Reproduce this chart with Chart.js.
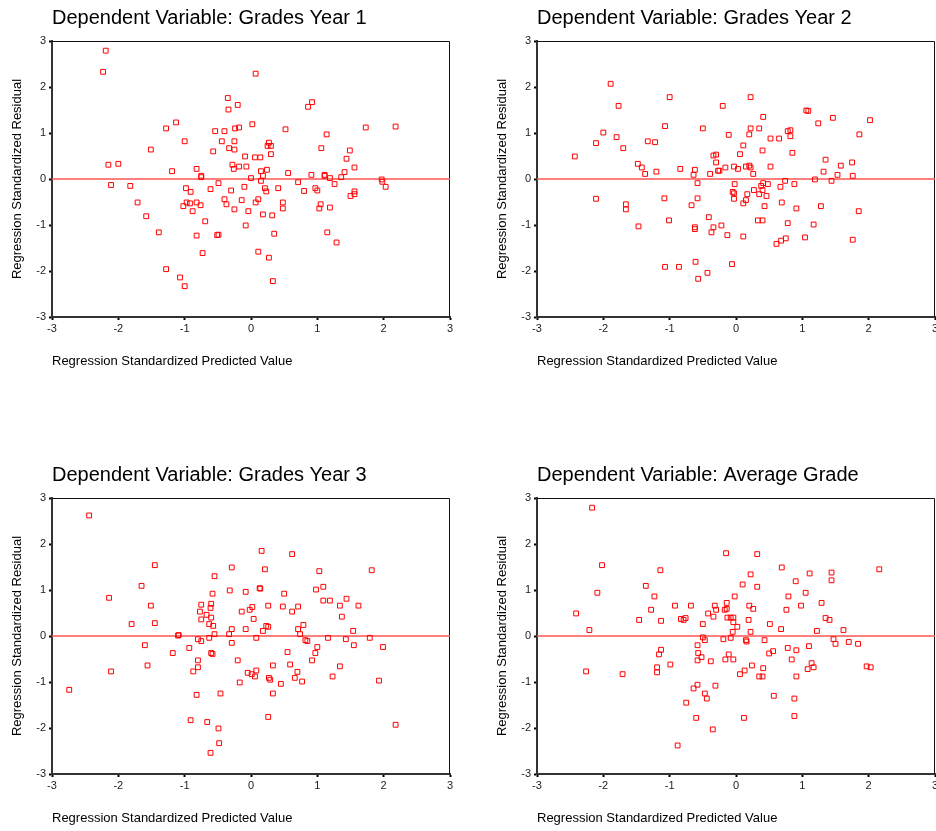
<!DOCTYPE html>
<html>
<head>
<meta charset="utf-8">
<script src="https://cdn.jsdelivr.net/npm/chart.js@4"></script>
<style>
  html, body { margin: 0; padding: 0; background: #fff; overflow: hidden; }
  body { width: 936px; height: 831px; position: relative; }
  canvas { position: absolute; }
</style>
</head>
<body>
<canvas id="c1" width="460" height="374" style="left:0;top:0"></canvas>
<canvas id="c2" width="460" height="374" style="left:485px;top:0"></canvas>
<canvas id="c3" width="460" height="374" style="left:0;top:457px"></canvas>
<canvas id="c4" width="460" height="374" style="left:485px;top:457px"></canvas>
<script>
// values
const titles = [
  'Dependent Variable: Grades Year 1',
  'Dependent Variable: Grades Year 2',
  'Dependent Variable: Grades Year 3',
  'Dependent Variable: Average Grade'
];
const xTitle = 'Regression Standardized Predicted Value';
const yTitle = 'Regression Standardized Residual';
const axisMin = -3, axisMax = 3;

const x1 = [-2.19,-2.23,0.07,-0.35,-0.20,-0.34,0.92,0.86,-1.13,-1.28,-0.24,-0.18,0.02,0.52,1.73,2.18,-0.54,-0.40,1.14,-1.00,
  -0.44,-0.25,0.27,0.25,0.30,-1.51,-0.33,-0.25,1.06,1.49,-0.57,0.30,-0.09,0.06,0.14,1.44,-2.15,-2.00,-0.28,-0.18,
  -0.07,-0.26,-0.82,1.56,-1.19,0.15,0.24,0.56,1.41,-0.75,-0.75,0.18,0.91,1.11,1.11,1.19,1.36,0.00,1.97,1.98,
  2.03,-2.11,-1.82,-0.49,0.15,0.71,1.26,-0.98,-0.91,-0.61,-0.10,0.21,0.23,0.41,0.80,0.97,1.00,1.56,1.56,1.50,
  -0.30,-1.71,-0.97,-0.92,-0.82,-0.76,-1.02,-0.40,-0.37,-0.14,0.11,0.07,0.48,0.48,-0.25,-0.88,-0.04,1.05,1.03,1.19,
  -1.58,0.18,0.32,-0.69,-0.08,-1.39,-0.82,-0.51,-0.49,0.35,1.15,1.29,-0.73,0.11,0.27,-1.28,-1.07,-1.00,0.33];
const y1 = [2.79,2.33,2.29,1.76,1.61,1.51,1.67,1.57,1.23,1.10,1.10,1.12,1.19,1.08,1.12,1.14,1.04,1.04,0.97,0.82,
  0.82,0.82,0.79,0.72,0.72,0.64,0.67,0.64,0.67,0.62,0.60,0.54,0.49,0.47,0.47,0.44,0.31,0.33,0.31,0.27,
  0.27,0.22,0.22,0.25,0.17,0.17,0.20,0.13,0.15,0.07,0.04,0.07,0.09,0.09,0.07,0.02,0.04,0.02,-0.01,-0.06,
  -0.17,-0.13,-0.15,-0.09,-0.04,-0.07,-0.11,-0.20,-0.28,-0.22,-0.17,-0.20,-0.27,-0.20,-0.26,-0.20,-0.25,-0.27,-0.33,-0.37,
  -0.25,-0.51,-0.51,-0.53,-0.51,-0.57,-0.59,-0.44,-0.55,-0.46,-0.44,-0.51,-0.51,-0.64,-0.66,-0.70,-0.70,-0.55,-0.64,-0.62,
  -0.81,-0.77,-0.79,-0.92,-1.01,-1.16,-1.23,-1.22,-1.21,-1.19,-1.16,-1.38,-1.61,-1.58,-1.71,-1.96,-2.14,-2.33,-2.22];

const x2 = [-1.89,-1.00,0.22,-1.77,-0.20,1.06,1.09,0.41,1.46,1.24,2.02,-1.07,-0.50,0.22,0.35,-2.00,0.78,0.82,-0.11,0.20,
  1.86,-1.80,0.82,0.52,0.65,-2.11,-1.33,-1.22,0.11,-1.70,0.40,0.85,0.06,-0.34,-0.30,-2.43,1.35,-0.30,-1.48,1.75,
  -1.42,1.58,0.15,0.20,0.22,-0.16,-0.03,0.03,0.52,-0.84,-0.62,-0.27,-0.25,-1.20,-1.37,-0.39,0.26,1.32,1.53,-0.64,
  1.76,1.19,0.74,1.44,-0.58,-0.02,0.41,0.48,0.88,0.38,0.67,-0.05,-0.03,0.27,0.40,0.17,0.35,-2.11,-1.08,-0.58,
  -0.03,0.46,0.15,0.11,0.69,-1.66,-1.66,-0.67,0.43,1.28,0.91,1.85,-0.41,-1.01,0.33,0.40,0.78,1.17,-0.22,-1.47,
  -0.62,-0.62,-0.34,-0.37,-0.13,0.11,1.04,0.75,0.68,0.61,1.76,-1.07,-0.86,-0.61,-0.06,-0.43,-0.57];
const y2 = [2.07,1.78,1.78,1.59,1.59,1.49,1.48,1.35,1.33,1.21,1.28,1.15,1.10,1.10,1.10,1.01,1.04,1.06,0.96,0.97,
  0.97,0.91,0.93,0.88,0.88,0.78,0.82,0.80,0.73,0.67,0.62,0.57,0.54,0.51,0.53,0.49,0.42,0.36,0.33,0.36,
  0.25,0.29,0.27,0.29,0.25,0.25,0.27,0.22,0.27,0.22,0.20,0.18,0.18,0.16,0.11,0.11,0.11,0.16,0.09,0.09,
  0.07,-0.01,-0.04,-0.04,-0.09,-0.11,-0.09,-0.11,-0.11,-0.15,-0.17,-0.28,-0.31,-0.24,-0.24,-0.33,-0.33,-0.43,-0.42,-0.42,
  -0.43,-0.37,-0.46,-0.53,-0.51,-0.55,-0.66,-0.57,-0.59,-0.59,-0.64,-0.70,-0.83,-0.90,-0.90,-0.90,-0.96,-0.99,-1.01,-1.03,
  -1.05,-1.09,-1.05,-1.16,-1.22,-1.25,-1.27,-1.29,-1.34,-1.41,-1.32,-1.91,-1.91,-1.80,-1.85,-2.04,-2.17];

const x3 = [-2.44,-2.74,0.16,0.62,-1.45,-0.29,0.21,1.03,1.82,-0.55,-1.65,1.09,0.13,0.14,-0.32,-0.08,0.98,-0.58,0.50,-2.14,
  1.09,1.19,1.44,-0.75,-0.60,-1.51,0.02,0.26,0.48,0.71,1.34,1.62,-0.61,-0.77,-0.14,-0.02,0.62,-0.67,-0.60,0.04,
  -0.75,1.37,-1.80,-1.45,-0.63,-0.57,-0.29,-0.08,0.23,0.26,0.18,0.79,0.71,1.54,-0.55,-0.33,0.74,-1.10,-1.09,-0.63,
  0.08,1.16,1.79,-0.80,-0.75,0.82,0.85,1.43,-1.60,-0.29,1.55,-0.93,1.00,1.99,-1.18,-0.60,-0.58,0.55,0.97,-0.80,
  -0.20,0.92,-1.56,-0.80,0.33,0.59,1.34,-2.11,-0.87,-0.05,0.01,0.08,0.06,0.70,0.27,0.29,0.66,1.23,-0.17,0.45,
  0.77,1.93,-0.82,-0.46,0.33,0.26,-0.91,-0.66,-0.49,-0.48,-0.61,2.18];
const y3 = [2.62,-1.17,1.85,1.78,1.54,1.49,1.45,1.41,1.43,1.30,1.09,1.07,1.04,1.03,0.99,0.96,1.01,0.92,0.92,0.83,
  0.77,0.77,0.81,0.68,0.70,0.66,0.63,0.66,0.64,0.64,0.66,0.66,0.61,0.53,0.53,0.57,0.53,0.46,0.40,0.37,
  0.36,0.42,0.26,0.28,0.26,0.22,0.15,0.15,0.22,0.20,0.11,0.24,0.15,0.11,0.04,0.04,0.04,0.01,0.02,-0.04,
  -0.04,-0.04,-0.04,-0.07,-0.11,-0.09,-0.11,-0.07,-0.20,-0.15,-0.20,-0.26,-0.24,-0.24,-0.37,-0.37,-0.39,-0.35,-0.37,-0.53,
  -0.53,-0.53,-0.64,-0.68,-0.64,-0.62,-0.66,-0.77,-0.77,-0.80,-0.83,-0.75,-0.88,-0.78,-0.91,-0.95,-0.91,-0.88,-1.01,-1.04,
  -0.99,-0.97,-1.28,-1.25,-1.25,-1.76,-1.83,-1.87,-2.01,-2.33,-2.54,-1.93];

const x4 = [-2.17,-2.02,-0.15,0.32,0.69,-1.14,1.44,1.11,0.22,2.16,1.44,0.90,-1.36,0.10,0.32,-2.09,1.05,-1.23,-0.02,0.79,
  1.29,-0.14,-0.92,-0.68,-0.32,0.20,0.98,-1.28,-0.30,-0.17,-0.14,0.26,0.76,-2.41,-0.42,-0.34,-0.76,-0.83,-0.79,-0.13,
  -0.08,-0.04,-0.04,-1.46,-1.13,0.19,1.35,1.41,-0.50,0.51,0.02,-2.21,0.68,1.62,1.22,-0.05,0.22,-0.50,-0.47,-0.19,
  -0.08,0.15,0.16,0.43,1.47,1.50,1.70,1.84,-0.58,0.78,1.10,0.91,-0.57,0.50,0.56,-1.13,-1.16,-0.52,-0.11,-0.16,
  -0.04,-0.58,-0.38,0.84,1.14,-0.99,0.24,-1.19,0.41,1.17,1.08,1.97,2.03,-2.26,-1.19,0.13,0.06,-1.71,0.35,0.40,
  0.91,-0.58,-0.64,-0.31,-0.47,-0.44,0.57,0.88,-0.75,-0.60,0.12,0.88,-0.35,-0.88];
const y4 = [2.79,1.54,1.80,1.78,1.49,1.43,1.38,1.36,1.34,1.45,1.21,1.19,1.09,1.12,1.07,0.94,0.94,0.86,0.86,0.86,
  0.72,0.72,0.66,0.66,0.66,0.66,0.66,0.57,0.57,0.57,0.59,0.59,0.57,0.49,0.49,0.42,0.39,0.37,0.35,0.40,
  0.40,0.40,0.30,0.35,0.33,0.35,0.39,0.35,0.26,0.26,0.20,0.13,0.15,0.13,0.11,0.09,0.09,-0.03,-0.09,-0.07,
  -0.04,-0.09,-0.12,-0.09,-0.07,-0.17,-0.13,-0.17,-0.20,-0.26,-0.22,-0.31,-0.37,-0.38,-0.33,-0.30,-0.40,-0.46,-0.40,-0.51,
  -0.51,-0.53,-0.55,-0.51,-0.59,-0.62,-0.64,-0.68,-0.70,-0.68,-0.72,-0.66,-0.68,-0.77,-0.79,-0.75,-0.83,-0.83,-0.88,-0.88,
  -0.88,-1.06,-1.14,-1.08,-1.25,-1.36,-1.30,-1.36,-1.45,-1.78,-1.78,-1.74,-2.03,-2.38];

const FONT = 'Arial, "Liberation Sans", Helvetica, sans-serif';
Chart.defaults.font.family = FONT;

// thin frame on the top and right of the plot area
const frame = {
  id: 'frame',
  beforeDatasetsDraw(chart) {
    const {ctx, chartArea: a} = chart;
    ctx.save();
    ctx.strokeStyle = '#111';
    ctx.lineWidth = 1;
    ctx.beginPath();
    ctx.moveTo(a.left, a.top + 0.5);
    ctx.lineTo(a.right - 0.5, a.top + 0.5);
    ctx.lineTo(a.right - 0.5, a.bottom);
    ctx.stroke();
    ctx.restore();
  }
};

function makeChart(id, title, xs, ys) {
  const pts = xs.map((x, i) => ({x: x, y: ys[i]}));
  new Chart(document.getElementById(id), {
    type: 'scatter',
    data: {
      datasets: [
        {
          data: [{x: axisMin, y: 0}, {x: axisMax, y: 0}],
          showLine: true,
          borderColor: '#ff5555',
          borderWidth: 1.5,
          pointRadius: 0,
          order: 2
        },
        {
          data: pts,
          pointStyle: 'rect',
          pointRadius: 3.4,
          borderColor: '#ff0000',
          backgroundColor: 'rgba(255,255,255,0)',
          borderWidth: 1,
          order: 1
        }
      ]
    },
    options: {
      responsive: false,
      animation: false,
      layout: {padding: {left: 0, right: 10, top: 0, bottom: 0}},
      plugins: {
        legend: {display: false},
        tooltip: {enabled: false},
        title: {
          display: true,
          text: title,
          align: 'start',
          fullSize: false,
          color: '#000',
          font: {size: 20, weight: 'normal', lineHeight: 1.2},
          padding: {top: 6, bottom: 11}
        }
      },
      scales: {
        x: {
          type: 'linear',
          min: axisMin,
          max: axisMax,
          ticks: {stepSize: 1, color: '#222', font: {size: 11}, padding: 2},
          grid: {drawOnChartArea: false, color: '#000', tickLength: 3, tickWidth: 2},
          border: {color: '#333', width: 2},
          title: {display: true, text: xTitle, align: 'start', color: '#000', font: {size: 13}, padding: {top: 0, bottom: 5}},
          afterFit(s) { s.height = 57; s.paddingLeft = 0; s.paddingRight = 0; }
        },
        y: {
          type: 'linear',
          min: axisMin,
          max: axisMax,
          ticks: {stepSize: 1, color: '#222', font: {size: 11}, padding: 3},
          grid: {drawOnChartArea: false, color: '#000', tickLength: 3, tickWidth: 2},
          border: {color: '#333', width: 2},
          title: {display: true, text: yTitle, color: '#000', font: {size: 13}, padding: {top: 10, bottom: 0}},
          afterFit(s) { s.width = 52; s.paddingTop = 0; s.paddingBottom = 0; }
        }
      }
    },
    plugins: [frame]
  });
}

makeChart('c1', titles[0], x1, y1);
makeChart('c2', titles[1], x2, y2);
makeChart('c3', titles[2], x3, y3);
makeChart('c4', titles[3], x4, y4);
</script>
</body>
</html>
